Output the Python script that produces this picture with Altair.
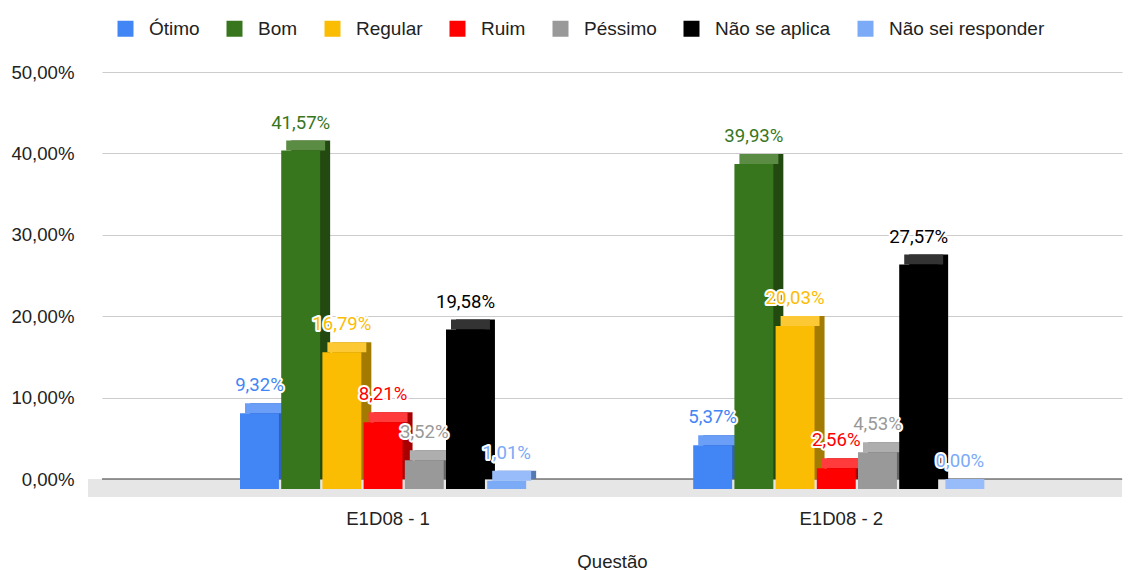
import altair as alt
import pandas as pd

groups = ["E1D08 - 1", "E1D08 - 2"]
categories = ["Ótimo", "Bom", "Regular", "Ruim", "Péssimo", "Não se aplica", "Não sei responder"]
values_g1 = [9.32, 41.57, 16.79, 8.21, 3.52, 19.58, 1.01]
values_g2 = [5.37, 39.93, 20.03, 2.56, 4.53, 27.57, 0.00]
colors = ["#4285f4", "#38761d", "#fbbc04", "#ff0000", "#999999", "#000000", "#7baaf7"]
side_colors = ["#2f62b8", "#224a10", "#a37b02", "#a80000", "#666666", "#000000", "#5579b3"]
top_colors = ["#6a9ef7", "#5b8c43", "#fcc934", "#ff3b3b", "#aeaeae", "#333333", "#97bcf9"]

rows = []
for g, vals in zip(groups, [values_g1, values_g2]):
    for c, v, col, sc, tc in zip(categories, vals, colors, side_colors, top_colors):
        rows.append({
            "group": g, "category": c, "key": g + "|" + c, "value": v,
            "color": col, "side": sc, "top": tc,
            "label": f"{v:.2f}".replace(".", ",") + "%",
        })
df = pd.DataFrame(rows)

# band domain: empty bands at the ends and between the two groups of bars
key_domain = (["pad1", "pad2", "pad3"]
              + [groups[0] + "|" + c for c in categories]
              + ["gap1", "gap2", "gap3", "gap4"]
              + [groups[1] + "|" + c for c in categories]
              + ["pad4", "pad5", "pad6"])

AX_FONT = "Liberation Sans"
LBL_FONT = "Roboto"
FS = 18.6
W, H = 1020, 407

x_scale = alt.Scale(domain=key_domain, paddingInner=0.055, paddingOuter=0.406, align=0.58)
x_enc = alt.X("key:N", scale=x_scale,
              axis=alt.Axis(title="Questão", labelAngle=0, domain=False, ticks=False,
                            labelPadding=30, titlePadding=25, labelFontSize=FS,
                            labelColor="#222222", titleFontSize=FS, titleColor="#222222",
                            titleFontWeight="normal", labelFont=AX_FONT, titleFont=AX_FONT,
                            labelOverlap=False, labelBound=False,
                            labelExpr="indexof(datum.value, '|Ruim') >= 0 ? split(datum.value, '|')[0] : ''"))
y_scale = alt.Scale(domain=[0, 50], nice=False)
y_enc = alt.Y("value:Q", scale=y_scale,
              axis=alt.Axis(title=None, values=[0, 10, 20, 30, 40, 50], grid=True,
                            gridColor="#cccccc", domain=False, ticks=False,
                            labelPadding=28, labelFontSize=FS, labelColor="#222222",
                            labelFont=AX_FONT,
                            labelExpr="replace(format(datum.value, '.2f'), '.', ',') + '%'"))

base = alt.Chart(df)
zero_df = pd.DataFrame({"value": [0.0]})

floor = alt.Chart(zero_df).mark_rect(color="#e6e6e6", y2Offset=18).encode(
    x=alt.value(-14), x2=alt.value(W),
    y=alt.Y("value:Q", scale=y_scale), y2=alt.Y2("value:Q"))
zero_rule = alt.Chart(zero_df).mark_rule(color="#333333", strokeWidth=1).encode(
    x=alt.value(0), x2=alt.value(W), y=alt.Y("value:Q", scale=y_scale))

back = base.mark_bar(xOffset=5, x2Offset=5).encode(
    x=x_enc, y=y_enc, y2=alt.datum(0),
    color=alt.Color("side:N", scale=None))
top = base.mark_bar(y2Offset=10).encode(
    x=x_enc, y=y_enc, y2=alt.Y2("value:Q"),
    color=alt.Color("top:N", scale=None))
front = base.mark_bar(xOffset=-5, x2Offset=-5, yOffset=10, y2Offset=10).encode(
    x=x_enc, y=y_enc, y2=alt.datum(0),
    color=alt.Color("category:N", sort=categories,
                    scale=alt.Scale(domain=categories, range=colors),
                    legend=alt.Legend(title=None, orient="none", legendX=14, legendY=-53,
                                      direction="horizontal", symbolType="square",
                                      symbolSize=256, symbolStrokeWidth=0, symbolOpacity=1,
                                      labelFontSize=19, labelFont=AX_FONT, labelColor="#222222",
                                      labelOffset=14, columnPadding=25)))
halo = base.mark_text(xOffset=-5, yOffset=-18, fontSize=FS, font=LBL_FONT, stroke="white",
                      strokeWidth=4, strokeJoin="round", fill="white").encode(
    x=x_enc, y=y_enc, text="label:N")
labels = base.mark_text(xOffset=-5, yOffset=-18, fontSize=FS, font=LBL_FONT).encode(
    x=x_enc, y=y_enc, text="label:N",
    color=alt.Color("color:N", scale=None))

chart = alt.layer(floor, zero_rule, back, top, front, halo, labels).properties(
    width=W, height=H,
    autosize=alt.AutoSizeParams(type="none"),
    padding={"left": 94, "top": 64, "right": 4, "bottom": 95},
).configure_view(stroke=None)

chart.save("out.html", embed_options={"renderer": "svg", "actions": False})
